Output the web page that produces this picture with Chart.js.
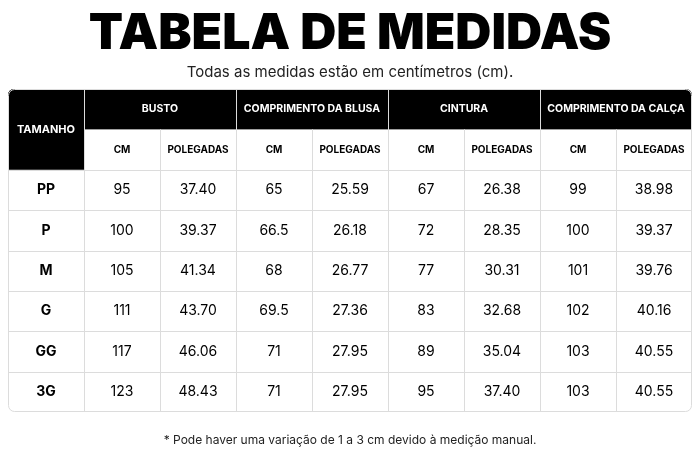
<!DOCTYPE html>
<html>
<head>
<meta charset="utf-8">
<script src="https://cdn.jsdelivr.net/npm/chart.js@4"></script>
<style>
  html, body { margin: 0; padding: 0; background: #fff; }
  #wrap { width: 700px; height: 467px; }
</style>
</head>
<body>
<div id="wrap"><canvas id="tabela"></canvas></div>
<script>
// dados da tabela
var tamanhos = ['PP', 'P', 'M', 'G', 'GG', '3G'];
var grupos = ['BUSTO', 'COMPRIMENTO DA BLUSA', 'CINTURA', 'COMPRIMENTO DA CALÇA'];
var unidades = ['CM', 'POLEGADAS'];
var bustoCm = ['95', '100', '105', '111', '117', '123'];
var bustoPol = ['37.40', '39.37', '41.34', '43.70', '46.06', '48.43'];
var blusaCm = ['65', '66.5', '68', '69.5', '71', '71'];
var blusaPol = ['25.59', '26.18', '26.77', '27.36', '27.95', '27.95'];
var cinturaCm = ['67', '72', '77', '83', '89', '95'];
var cinturaPol = ['26.38', '28.35', '30.31', '32.68', '35.04', '37.40'];
var calcaCm = ['99', '100', '101', '102', '103', '103'];
var calcaPol = ['38.98', '39.37', '39.76', '40.16', '40.55', '40.55'];

var titulo = 'TABELA DE MEDIDAS';
var subtitulo = 'Todas as medidas estão em centímetros (cm).';
var nota = '* Pode haver uma variação de 1 a 3 cm devido à medição manual.';

var colunas = ['TAMANHO', 'c1', 'c2', 'c3', 'c4', 'c5', 'c6', 'c7', 'c8'];
var linhas = ['h1', 'h2'].concat(tamanhos);
var valores = [bustoCm, bustoPol, blusaCm, blusaPol, cinturaCm, cinturaPol, calcaCm, calcaPol];

var FONT = '"Inter", "Liberation Sans", sans-serif';

var tabelaPlugin = {
    id: 'tabela',
    afterDraw: function(chart) {
        var ctx = chart.ctx;
        var xs = chart.scales.x, ys = chart.scales.y;
        var a = chart.chartArea;
        var cw = (a.right - a.left) / colunas.length;
        var rh = (a.bottom - a.top) / linhas.length;
        function cx(i) { return xs.getPixelForValue(i); }
        function cy(j) { return ys.getPixelForValue(j); }

        ctx.save();
        // título
        ctx.fillStyle = '#000';
        ctx.textAlign = 'center';
        ctx.textBaseline = 'middle';
        ctx.font = '900 50px ' + FONT;
        ctx.fillText(titulo, chart.width / 2, 34);
        ctx.font = '15px ' + FONT;
        ctx.fillStyle = '#222';
        ctx.fillText(subtitulo, chart.width / 2, 72);
        ctx.font = '12px ' + FONT;
        ctx.fillText(nota, chart.width / 2, 440);

        // fundo e borda arredondada
        ctx.beginPath();
        ctx.roundRect(a.left, a.top, a.right - a.left, a.bottom - a.top, 6);
        ctx.clip();
        ctx.fillStyle = '#fff';
        ctx.fillRect(a.left, a.top, a.right - a.left, a.bottom - a.top);
        ctx.fillStyle = '#000';
        ctx.fillRect(a.left, a.top, a.right - a.left, rh);
        ctx.fillRect(a.left, a.top, cw, rh * 2);

        // grade
        ctx.strokeStyle = '#dcdcdc';
        ctx.lineWidth = 1;
        for (var i = 1; i < colunas.length; i++) {
            var x = Math.round(cx(i) - cw / 2) + 0.5;
            ctx.beginPath();
            ctx.moveTo(x, i % 2 === 1 ? a.top : a.top + rh);
            ctx.lineTo(x, a.bottom);
            ctx.stroke();
        }
        for (var j = 2; j < linhas.length; j++) {
            var y = Math.round(cy(j) - rh / 2) + 0.5;
            ctx.beginPath();
            ctx.moveTo(a.left, y);
            ctx.lineTo(a.right, y);
            ctx.stroke();
        }
        ctx.restore();
        ctx.save();
        ctx.strokeStyle = '#dcdcdc';
        ctx.beginPath();
        ctx.roundRect(a.left + 0.5, a.top + 0.5, a.right - a.left - 1, a.bottom - a.top - 1, 6);
        ctx.stroke();
        ctx.textAlign = 'center';
        ctx.textBaseline = 'middle';

        // cabeçalhos
        ctx.fillStyle = '#fff';
        ctx.font = 'bold 11px ' + FONT;
        ctx.fillText('TAMANHO', cx(0), a.top + rh);
        ctx.font = 'bold 10.5px ' + FONT;
        grupos.forEach(function(g, k) {
            ctx.fillText(g, (cx(1 + k * 2) + cx(2 + k * 2)) / 2, cy(0));
        });
        ctx.fillStyle = '#000';
        ctx.font = 'bold 10px ' + FONT;
        for (var c = 1; c < colunas.length; c++) {
            ctx.fillText(unidades[(c - 1) % 2], cx(c), cy(1));
        }

        // corpo
        tamanhos.forEach(function(t, r) {
            ctx.font = 'bold 14px ' + FONT;
            ctx.fillText(t, cx(0), cy(r + 2));
            ctx.font = '14px ' + FONT;
            valores.forEach(function(serie, c) {
                ctx.fillText(serie[r], cx(c + 1), cy(r + 2));
            });
        });
        ctx.restore();
    }
};

new Chart(document.getElementById('tabela').getContext('2d'), {
    type: 'bar',
    data: { labels: colunas, datasets: [{ data: [], yAxisID: 'y' }] },
    options: {
        responsive: true,
        maintainAspectRatio: false,
        animation: false,
        layout: { padding: { left: 8, right: 8, top: 89, bottom: 55 } },
        plugins: { legend: { display: false }, tooltip: { enabled: false } },
        scales: {
            x: { type: 'category', labels: colunas, offset: true, display: false },
            y: { type: 'category', labels: linhas, offset: true, display: false }
        }
    },
    plugins: [tabelaPlugin]
});
</script>
</body>
</html>
